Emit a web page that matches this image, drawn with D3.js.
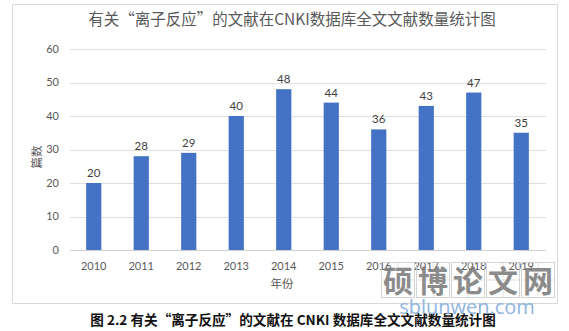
<!DOCTYPE html>
<html><head><meta charset="utf-8">
<script src="https://cdn.jsdelivr.net/npm/d3@7"></script>
<style>body{margin:0;background:#fff;}svg{display:block;}</style>
</head><body>
<svg id="c" width="569" height="331"></svg>
<script>
const years = ["2010","2011","2012","2013","2014","2015","2016","2017","2018","2019"];
const counts = [20,28,29,40,48,44,36,43,47,35];
const yTicks = [0,10,20,30,40,50,60];
const chartTitle = "有关“离子反应”的文献在CNKI数据库全文文献数量统计图";
const caption = "图 2.2  有关“离子反应”的文献在 CNKI 数据库全文文献数量统计图";
const yTitle = "篇数", xTitle = "年份";

const svg = d3.select("#c");
svg.append("rect").attr("x",12.5).attr("y",4.5).attr("width",545).attr("height",299)
  .attr("fill","#fff").attr("stroke","#d9d9d9");

const x = d3.scaleBand().domain(years).range([70,545]).paddingInner(0.68).paddingOuter(0.34);
const y = d3.scaleLinear().domain([0,60]).range([250,49]);

const g = svg.append("g");
g.selectAll("line.grid").data(yTicks).join("line")
  .attr("x1",70).attr("x2",546).attr("y1",d=>Math.round(y(d))+0.5).attr("y2",d=>Math.round(y(d))+0.5)
  .attr("stroke",d=>d===0?"#d0d0d0":"#dedede").attr("stroke-width",1);
g.selectAll("text.yt").data(yTicks).join("text")
  .attr("x",59).attr("y",d=>y(d)).attr("dy","0.35em").attr("text-anchor","end")
  .attr("font-family","Lato, 'Open Sans', sans-serif").attr("font-size",11).attr("fill","#595959")
  .text(d=>d);
g.selectAll("rect.bar").data(counts).join("rect")
  .attr("x",(d,i)=>x(years[i])).attr("width",x.bandwidth())
  .attr("y",d=>y(d)).attr("height",d=>y(0)-y(d)).attr("fill","#4472C4");
g.selectAll("text.val").data(counts).join("text")
  .attr("x",(d,i)=>x(years[i])+x.bandwidth()/2).attr("y",d=>y(d)-6)
  .attr("text-anchor","middle").attr("font-family","Lato, 'Open Sans', sans-serif")
  .attr("font-size",11.5).attr("fill","#404040").text(d=>d);
g.selectAll("text.xt").data(years).join("text")
  .attr("x",d=>x(d)+x.bandwidth()/2).attr("y",270).attr("text-anchor","middle")
  .attr("font-family","Lato, 'Open Sans', sans-serif").attr("font-size",11).attr("fill","#595959")
  .text(d=>d);
svg.append("text").attr("x",292).attr("y",25).attr("text-anchor","middle")
  .attr("font-family","'Noto Sans CJK SC', sans-serif").attr("font-size",15.5).attr("fill","#595959")
  .text(chartTitle);
svg.append("text").attr("x",282).attr("y",288).attr("text-anchor","middle")
  .attr("font-family","'Noto Sans CJK SC', sans-serif").attr("font-size",11.5).attr("fill","#595959")
  .text(xTitle);
svg.append("text").attr("transform","translate(41,157) rotate(-90)").attr("text-anchor","middle")
  .attr("font-family","'Noto Sans CJK SC', sans-serif").attr("font-size",11.5).attr("fill","#595959")
  .text(yTitle);
svg.append("text").attr("x",293).attr("y",325).attr("text-anchor","middle")
  .attr("font-family","'Noto Sans CJK SC', serif").attr("font-weight","bold").attr("font-size",13.6).attr("fill","#111")
  .text(caption);
const wm = ["硕","博","论","文","网"];
const wg = svg.append("g").attr("opacity",0.85);
wm.forEach((ch,i)=>{
  const bx = 381 + i*35;
  wg.append("rect").attr("x",bx+0.5).attr("y",262.5).attr("width",33).attr("height",35).attr("fill","none").attr("stroke","#ccc");
  wg.append("line").attr("x1",bx+17).attr("x2",bx+17).attr("y1",263).attr("y2",297).attr("stroke","#ddd");
  wg.append("line").attr("x1",bx).attr("x2",bx+33).attr("y1",280).attr("y2",280).attr("stroke","#ddd");
  wg.append("text").attr("x",bx+17).attr("y",292).attr("text-anchor","middle")
    .attr("font-family","'Noto Sans CJK SC', sans-serif").attr("font-weight","bold").attr("font-size",30).attr("fill","#777").text(ch);
});
svg.append("text").attr("x",467).attr("y",314).attr("text-anchor","middle")
  .attr("font-family","'Open Sans', sans-serif").attr("font-size",20).attr("fill","#8fb4e3").text("sblunwen.com");
</script>
</body></html>
